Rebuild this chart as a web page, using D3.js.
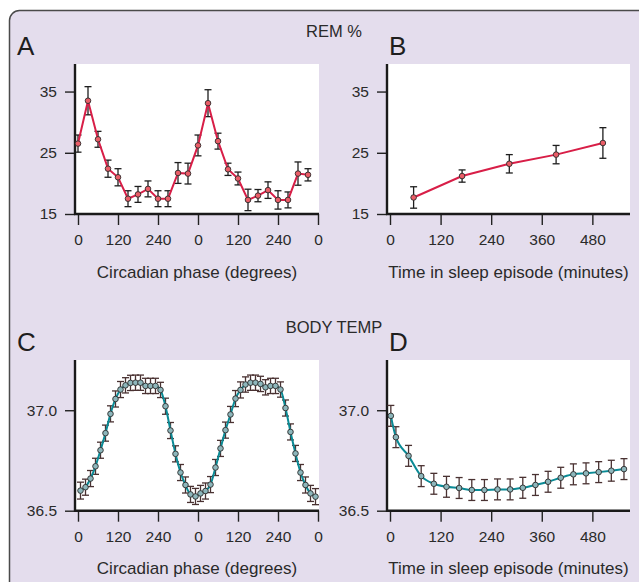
<!DOCTYPE html>
<html>
<head>
<meta charset="utf-8">
<script src="https://cdn.jsdelivr.net/npm/d3@7"></script>
<style>
  body { margin: 0; background: #fff; }
  svg text { font-family: "Liberation Sans", Arial, Helvetica, sans-serif; fill: #2a2a2a; }
</style>
</head>
<body>
<svg id="chart" width="639" height="582"></svg>
<script>
// REM % by circadian phase (double plotted)
var remPhase = [0, 30, 60, 90, 120, 150, 180, 210, 240, 270, 300, 330,
                360, 390, 420, 450, 480, 510, 540, 570, 600, 630, 660, 690];
var remPhaseMean = [26.5, 33.5, 27.2, 22.4, 21.0, 17.5, 18.2, 19.1, 17.5, 17.5, 21.7, 21.6,
                    26.2, 33.1, 26.9, 22.3, 20.8, 17.3, 18.0, 18.9, 17.3, 17.3, 21.6, 21.4];
var remPhaseErr = [1.4, 2.3, 1.3, 1.4, 1.4, 1.3, 1.3, 1.3, 1.3, 1.3, 1.7, 1.7,
                   1.7, 2.2, 1.3, 1.0, 1.05, 1.75, 1.0, 1.35, 1.5, 1.3, 1.9, 1.0];

// REM % by time in sleep episode
var remSleepTime = [56, 171, 283, 394, 505];
var remSleepMean = [17.7, 21.2, 23.2, 24.7, 26.6];
var remSleepErr = [1.75, 1.0, 1.5, 1.5, 2.5];

// body temperature by circadian phase (double plotted)
var tempPhase = [7.5, 22.5, 37.5, 52.5, 67.5, 82.5, 97.5, 112.5, 127.5, 142.5, 157.5, 172.5,
                 187.5, 202.5, 217.5, 232.5, 247.5, 262.5, 277.5, 292.5, 307.5, 322.5, 337.5, 352.5,
                 367.5, 382.5, 397.5, 412.5, 427.5, 442.5, 457.5, 472.5, 487.5, 502.5, 517.5, 532.5,
                 547.5, 562.5, 577.5, 592.5, 607.5, 622.5, 637.5, 652.5, 667.5, 682.5, 697.5, 712.5];
var tempPhaseMean = [36.600, 36.617, 36.660, 36.721, 36.801, 36.886, 36.982, 37.056, 37.103, 37.124, 37.136, 37.137,
                     37.137, 37.121, 37.121, 37.121, 37.101, 37.020, 36.899, 36.783, 36.690, 36.628, 36.581, 36.571,
                     36.586, 36.598, 36.630, 36.715, 36.810, 36.901, 36.979, 37.058, 37.101, 37.128, 37.137, 37.137,
                     37.131, 37.114, 37.121, 37.121, 37.103, 37.011, 36.892, 36.785, 36.690, 36.628, 36.586, 36.570];
var tempPhaseErr = [0.042, 0.040, 0.040, 0.040, 0.040, 0.040, 0.040, 0.040, 0.040, 0.038, 0.038, 0.038,
                    0.038, 0.038, 0.038, 0.038, 0.038, 0.040, 0.040, 0.040, 0.040, 0.040, 0.040, 0.040,
                    0.040, 0.040, 0.040, 0.040, 0.040, 0.040, 0.040, 0.040, 0.040, 0.038, 0.038, 0.038,
                    0.038, 0.038, 0.038, 0.038, 0.038, 0.040, 0.040, 0.040, 0.040, 0.040, 0.040, 0.040];

// body temperature by time in sleep episode
var tempSleepTime = [2, 14, 44, 74, 104, 134, 164, 194, 224, 255, 285, 315, 345, 375, 405, 435, 465, 495, 525, 555];
var tempSleepMean = [36.972, 36.866, 36.773, 36.672, 36.634, 36.619, 36.613, 36.603, 36.603, 36.606,
                     36.606, 36.614, 36.628, 36.644, 36.664, 36.681, 36.686, 36.692, 36.699, 36.707];
var tempSleepErr = [0.052, 0.052, 0.052, 0.052, 0.052, 0.052, 0.052, 0.052, 0.052, 0.052,
                    0.052, 0.052, 0.052, 0.052, 0.052, 0.052, 0.052, 0.052, 0.052, 0.052];

var phaseTicks = [0, 120, 240, 360, 480, 600, 720];
var sleepTicks = [0, 120, 240, 360, 480];
var remTicks = [15, 25, 35];
var tempTicks = [36.5, 37.0];

var svg = d3.select("#chart");

// lavender frame, only top-left corner visible
svg.append("rect")
    .attr("x", 9.5).attr("y", 10.5)
    .attr("width", 720).attr("height", 700)
    .attr("rx", 10)
    .attr("fill", "#e4dded")
    .attr("stroke", "#4a4a4a")
    .attr("stroke-width", 1.5);

svg.append("text").attr("x", 334).attr("y", 37)
    .attr("text-anchor", "middle").style("font-size", "16.5px").text("REM %");
svg.append("text").attr("x", 334).attr("y", 333)
    .attr("text-anchor", "middle").style("font-size", "16.5px").text("BODY TEMP");

function drawPanel(cfg){
    var g = svg.append("g");
    var x = d3.scaleLinear().domain(cfg.xDomain).range(cfg.xRange);
    var y = d3.scaleLinear().domain(cfg.yDomain).range([cfg.bottom, cfg.top]);

    g.append("rect")
        .attr("x", cfg.left).attr("y", cfg.top)
        .attr("width", cfg.right - cfg.left).attr("height", cfg.bottom - cfg.top)
        .attr("fill", "#fff");

    g.append("text")
        .attr("x", cfg.letterX).attr("y", cfg.top - 9)
        .style("font-size", "26px").style("fill", "#1e1e1e")
        .text(cfg.letter);

    // y axis
    var yAxis = g.append("g").attr("transform", "translate(" + cfg.left + ",0)")
        .call(d3.axisLeft(y).tickValues(cfg.yTicks).tickSize(10).tickSizeOuter(0)
            .tickPadding(8).tickFormat(cfg.yFormat));
    yAxis.select(".domain").remove();
    yAxis.selectAll(".tick line").attr("stroke", "#222").attr("stroke-width", 1.4);
    yAxis.selectAll(".tick text").style("font-size", "15.5px").attr("fill", "#2a2a2a")
        .attr("font-family", null);

    // x axis
    var xAxis = g.append("g").attr("transform", "translate(0," + cfg.bottom + ")")
        .call(d3.axisBottom(x).tickValues(cfg.xTicks).tickSize(11).tickSizeOuter(0)
            .tickPadding(9).tickFormat(cfg.xFormat));
    xAxis.select(".domain").remove();
    xAxis.selectAll(".tick line").attr("stroke", "#222").attr("stroke-width", 1.4);
    xAxis.selectAll(".tick text").style("font-size", "15.5px").attr("fill", "#2a2a2a")
        .attr("font-family", null);

    g.append("line")
        .attr("x1", cfg.left).attr("x2", cfg.left)
        .attr("y1", cfg.top).attr("y2", cfg.bottom + 1)
        .attr("stroke", "#1a1a1a").attr("stroke-width", 2.4);
    g.append("line")
        .attr("x1", cfg.left - 1).attr("x2", cfg.right)
        .attr("y1", cfg.bottom).attr("y2", cfg.bottom)
        .attr("stroke", "#1a1a1a").attr("stroke-width", 2.4);

    g.append("text")
        .attr("x", (cfg.left + cfg.right) / 2).attr("y", cfg.bottom + 63.5)
        .attr("text-anchor", "middle").style("font-size", "17px")
        .text(cfg.xTitle);

    var pts = cfg.xs.map(function(d, i){
        return {x: d, y: cfg.ys[i], e: cfg.errs[i]};
    });

    // error bars
    var eb = g.append("g").selectAll("g").data(pts).join("g")
        .attr("stroke", cfg.errColor).attr("stroke-width", 1.3);
    eb.append("line")
        .attr("x1", function(d){ return x(d.x); }).attr("x2", function(d){ return x(d.x); })
        .attr("y1", function(d){ return y(d.y - d.e); }).attr("y2", function(d){ return y(d.y + d.e); });
    eb.append("line")
        .attr("x1", function(d){ return x(d.x) - 3.5; }).attr("x2", function(d){ return x(d.x) + 3.5; })
        .attr("y1", function(d){ return y(d.y + d.e); }).attr("y2", function(d){ return y(d.y + d.e); });
    eb.append("line")
        .attr("x1", function(d){ return x(d.x) - 3.5; }).attr("x2", function(d){ return x(d.x) + 3.5; })
        .attr("y1", function(d){ return y(d.y - d.e); }).attr("y2", function(d){ return y(d.y - d.e); });

    var line = d3.line()
        .x(function(d){ return x(d.x); })
        .y(function(d){ return y(d.y); })
        .curve(cfg.curve);
    g.append("path").datum(pts)
        .attr("d", line)
        .attr("fill", "none")
        .attr("stroke", cfg.lineColor)
        .attr("stroke-width", 2);

    g.append("g").selectAll("circle").data(pts).join("circle")
        .attr("cx", function(d){ return x(d.x); })
        .attr("cy", function(d){ return y(d.y); })
        .attr("r", 2.8)
        .attr("fill", cfg.pointFill)
        .attr("stroke", "#2b2b2b")
        .attr("stroke-width", 0.9);
}

var phaseFmt = function(d){ return d % 360; };
var plainFmt = function(d){ return d; };
var remFmt = function(d){ return d; };
var tempFmt = d3.format(".1f");

drawPanel({
    letter: "A", letterX: 17,
    left: 75, right: 319, top: 64, bottom: 214,
    xDomain: [0, 720], xRange: [78, 318], xTicks: phaseTicks, xFormat: phaseFmt,
    yDomain: [15, 39.5], yTicks: remTicks, yFormat: remFmt,
    xTitle: "Circadian phase (degrees)",
    xs: remPhase, ys: remPhaseMean, errs: remPhaseErr,
    lineColor: "#d81e47", pointFill: "#ea5d67", errColor: "#1e1e1e", curve: d3.curveLinear
});

drawPanel({
    letter: "B", letterX: 389,
    left: 387, right: 630, top: 64, bottom: 214,
    xDomain: [0, 570], xRange: [390, 630.3], xTicks: sleepTicks, xFormat: plainFmt,
    yDomain: [15, 39.5], yTicks: remTicks, yFormat: remFmt,
    xTitle: "Time in sleep episode (minutes)",
    xs: remSleepTime, ys: remSleepMean, errs: remSleepErr,
    lineColor: "#d81e47", pointFill: "#ea5d67", errColor: "#1e1e1e", curve: d3.curveLinear
});

drawPanel({
    letter: "C", letterX: 17,
    left: 75, right: 319, top: 360, bottom: 510.7,
    xDomain: [0, 720], xRange: [78, 318], xTicks: phaseTicks, xFormat: phaseFmt,
    yDomain: [36.5, 37.25], yTicks: tempTicks, yFormat: tempFmt,
    xTitle: "Circadian phase (degrees)",
    xs: tempPhase, ys: tempPhaseMean, errs: tempPhaseErr,
    lineColor: "#0a8a95", pointFill: "#8db6bb", errColor: "#4a3232", curve: d3.curveMonotoneX
});

drawPanel({
    letter: "D", letterX: 389,
    left: 387, right: 630, top: 360, bottom: 510.7,
    xDomain: [0, 570], xRange: [390, 630.3], xTicks: sleepTicks, xFormat: plainFmt,
    yDomain: [36.5, 37.25], yTicks: tempTicks, yFormat: tempFmt,
    xTitle: "Time in sleep episode (minutes)",
    xs: tempSleepTime, ys: tempSleepMean, errs: tempSleepErr,
    lineColor: "#0a8a95", pointFill: "#8db6bb", errColor: "#4a3232", curve: d3.curveMonotoneX
});
</script>
</body>
</html>
